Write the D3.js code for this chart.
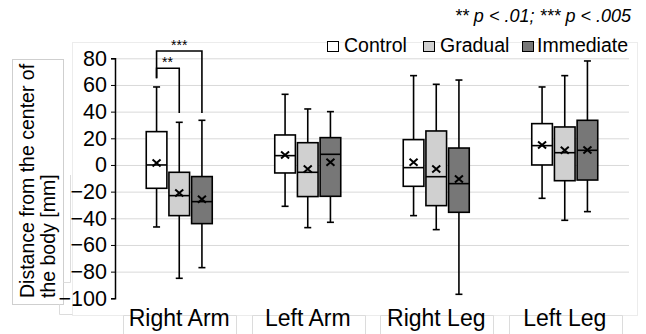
<!DOCTYPE html>
<html lang="en">
<head>
<meta charset="UTF-8">
<title>Box plot</title>
<script src="https://cdn.jsdelivr.net/npm/d3@7"></script>
<style>
    body{ margin:0; background:#fff; }
    svg{ font-family: "Liberation Sans", Arial, sans-serif; }
    .grid line{ stroke:#d9d9d9; stroke-width:1px; }
    .box{ stroke:#000; stroke-width:1.6px; }
</style>
</head>
<body>
<svg id="main" width="646" height="334"></svg>
<script>
    const categories = ["Right Arm","Left Arm","Right Leg","Left Leg"]
    const groups = ["Control","Gradual","Immediate"]
    const colors = ["#ffffff","#d0d0d0","#777777"]
    const yTicks = [80,60,40,20,0,-20,-40,-60,-80,-100]

    // [min, q1, median, q3, max, mean] per group, per category
    const control   = [[-46.5,-17.5,0,25,58.5,1.5],[-31,-6,7,22.5,53,7.5],[-38,-16,-2,19,67,2],[-25,0,14.5,31,58.5,15]]
    const gradual   = [[-85,-38,-23,-5.5,32,-21],[-47,-23.7,-5.5,16.7,42,-3],[-48.5,-30.5,-8.8,25.5,60.5,-3],[-41.5,-11.8,9.2,28.5,67,11]]
    const immediate = [[-77,-44,-27.5,-8.7,33.5,-25.7],[-43,-23.5,8,20.5,40,2],[-97,-35.5,-14,12.7,63.7,-10.5],[-35,-11.3,11,33.5,78,11.2]]
    const series = [control, gradual, immediate]

    // significance brackets: [category, group a, group b, top value, bottom value a, bottom value b, label]
    const brackets = [
        [0,0,2,85.5,65,39,"***"],
        [0,0,1,72.5,65,39,"**"]
    ]

    const margins = {top:58, bottom:36, left:115, right:17}
    const W = 646, H = 334
    const svg = d3.select("#main")

    const xScale = d3.scaleBand().domain(categories).range([margins.left, W-margins.right])
    const xGroup = d3.scaleBand().domain(groups).range([-33,33]).paddingInner(0.09)
    const yScale = d3.scaleLinear().domain([-100,80]).range([298.3,58.3])

    // outer frames (light)
    svg.append("rect").attr("x",72.5).attr("y",42.5).attr("width",565).attr("height",273)
        .attr("fill","none").attr("stroke","#ececec")
    svg.append("rect").attr("x",12.5).attr("y",59.5).attr("width",51).attr("height",245)
        .attr("fill","#fff").attr("stroke","#cfcfcf")
    svg.append("path").attr("d","M59.5,304.5V314.5H72.5M70.5,175V282.5H63.5")
        .attr("fill","none").attr("stroke","#dcdcdc")

    // label boxes under the axis
    svg.append("g").selectAll("path").data(categories).enter().append("path")
        .attr("d",d=>{
            const c = Math.round(xScale(d)+xScale.bandwidth()/2)
            return `M${c-55.5},334V315.5H${c+57.5}V334`
        })
        .attr("fill","none").attr("stroke","#dcdcdc")

    // grid
    svg.append("g").attr("class","grid")
        .selectAll("line").data(yTicks.filter(d=>d>-100)).enter().append("line")
        .attr("x1",margins.left).attr("x2",W-margins.right)
        .attr("y1",d=>yScale(d)+0.5).attr("y2",d=>yScale(d)+0.5)

    // y axis
    const yAxis = d3.axisLeft(yScale).tickValues(yTicks).tickSize(4).tickPadding(4)
    const ya = svg.append("g").attr("transform",`translate(${margins.left},0)`).call(yAxis)
    ya.select(".domain").attr("stroke","#000").attr("stroke-width",1.5)
    ya.selectAll(".tick line").attr("stroke","#000")
    ya.selectAll("text").attr("font-size",21.5).attr("fill","#000")
        .attr("font-family","'Liberation Sans', Arial, sans-serif")

    // category labels
    const cats = svg.append("g")
    cats.selectAll("text").data(categories).enter().append("text")
        .attr("x",d=>xScale(d)+xScale.bandwidth()/2)
        .attr("y",326).attr("text-anchor","middle")
        .attr("font-size",23).text(d=>d)

    // y title
    const yt = svg.append("g").attr("transform","translate(0,298) rotate(-90)")
    yt.append("text").attr("x",0).attr("y",34).attr("font-size",19.5).text("Distance from the center of")
    yt.append("text").attr("x",0).attr("y",54.5).attr("font-size",19.5).text("the body [mm]")

    // boxes
    series.forEach((s,gi)=>{
        const g = svg.append("g").attr("class","box")
        s.forEach((v,ci)=>{
            const cx = xScale(categories[ci]) + xScale.bandwidth()/2 + xGroup(groups[gi]) + xGroup.bandwidth()/2
            const bw = xGroup.bandwidth()
            const [mn,q1,md,q3,mx,mean] = v
            g.append("line").attr("x1",cx).attr("x2",cx).attr("y1",yScale(mx)).attr("y2",yScale(q3))
            g.append("line").attr("x1",cx).attr("x2",cx).attr("y1",yScale(q1)).attr("y2",yScale(mn))
            g.append("line").attr("x1",cx-3.5).attr("x2",cx+3.5).attr("y1",yScale(mx)).attr("y2",yScale(mx))
            g.append("line").attr("x1",cx-3.5).attr("x2",cx+3.5).attr("y1",yScale(mn)).attr("y2",yScale(mn))
            g.append("rect").attr("x",cx-bw/2).attr("y",yScale(q3)).attr("width",bw)
                .attr("height",yScale(q1)-yScale(q3)).attr("fill",colors[gi])
            g.append("line").attr("x1",cx-bw/2).attr("x2",cx+bw/2).attr("y1",yScale(md)).attr("y2",yScale(md))
            const my = yScale(mean)
            g.append("path").attr("d",`M${cx-4},${my-3.5}L${cx+4},${my+3.5}M${cx-4},${my+3.5}L${cx+4},${my-3.5}`)
                .attr("stroke-width",2).attr("fill","none")
        })
    })

    // brackets
    const bg = svg.append("g")
    brackets.forEach(b=>{
        const base = xScale(categories[b[0]]) + xScale.bandwidth()/2 + xGroup.bandwidth()/2
        const xa = base + xGroup(groups[b[1]]), xb = base + xGroup(groups[b[2]])
        bg.append("path")
            .attr("d",`M${xa},${yScale(b[4])}V${yScale(b[3])}H${xb}V${yScale(b[5])}`)
            .attr("fill","none").attr("stroke","#000").attr("stroke-width",1.6)
        bg.append("text").attr("x",b[2]===2 ? (xa+xb)/2 : xa+11).attr("y",yScale(b[3])-1)
            .attr("text-anchor","middle").attr("font-size",14).text(b[6])
    })

    // legend
    const lx = [327,423,522]
    const lg = svg.append("g")
    groups.forEach((g,i)=>{
        lg.append("rect").attr("x",lx[i]+0.5).attr("y",41.5).attr("width",11).attr("height",10)
            .attr("fill",colors[i]).attr("stroke","#000").attr("stroke-width",1)
        lg.append("text").attr("x",lx[i]+(i===2 ? 15 : 17)).attr("y",52).attr("font-size",19.5).text(g)
    })

    // p-value note
    svg.append("text").attr("x",631).attr("y",22).attr("text-anchor","end")
        .attr("font-size",18).attr("font-style","italic").text("** p < .01; *** p < .005")
</script>
</body>
</html>
